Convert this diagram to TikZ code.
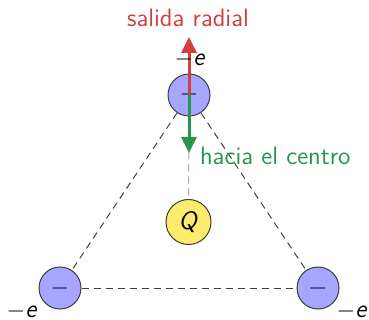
\documentclass[tikz,border=0pt]{standalone}
\usetikzlibrary{arrows.meta}
\definecolor{cred}{RGB}{212,62,62}
\definecolor{cgreen}{RGB}{38,150,78}
\definecolor{cblue}{RGB}{166,166,255}
\definecolor{cyel}{RGB}{252,236,110}
\definecolor{cedge}{RGB}{60,60,60}
\begin{document}
\begin{tikzpicture}[x=0.5pt,y=-0.5pt,
  font=\sffamily\fontsize{12.6}{14}\selectfont,
  charge/.style={circle,draw=cedge,line width=0.5pt,fill=cblue,minimum size=21pt,inner sep=0pt},
  qcharge/.style={circle,draw=cedge,line width=0.5pt,fill=cyel,minimum size=22.5pt,inner sep=0pt},
  side/.style={dashed,line width=0.5pt,dash pattern=on 3.5pt off 2.5pt,black!75},
  axis/.style={dashed,line width=0.5pt,dash pattern=on 3.5pt off 2.5pt,black!35},
  vec/.style={line width=1.5pt,-{Triangle[length=8pt,width=7.5pt]}}]
\useasboundingbox (0,0) rectangle (369,320);
\node[charge] (t) at (189,95) {$-$};
\node[charge] (l) at (60,288) {$-$};
\node[charge] (r) at (318,288) {$-$};
\node[qcharge] (q) at (188.5,222) {\textit{Q}};
\draw[side] (t) -- (l);
\draw[side] (t) -- (r);
\draw[side] (l) -- (r);
\draw[axis] (t) -- (q);
\coordinate (up) at (189,37);
\coordinate (down) at (189,153);
\draw[vec,cred] (t.center) -- (up);
\draw[vec,cgreen] (t.center) -- (down);
\node[text=cred] (sr) at (188,18) {salida radial};
\node[text=cgreen,anchor=west] (hc) at (193,156) {hacia el centro};
\node (et) at (190,60) {$-$\textit{e}};
\node (el) at (22,311) {$-$\textit{e}};
\node (er) at (352,311) {$-$\textit{e}};
\end{tikzpicture}
\end{document}
